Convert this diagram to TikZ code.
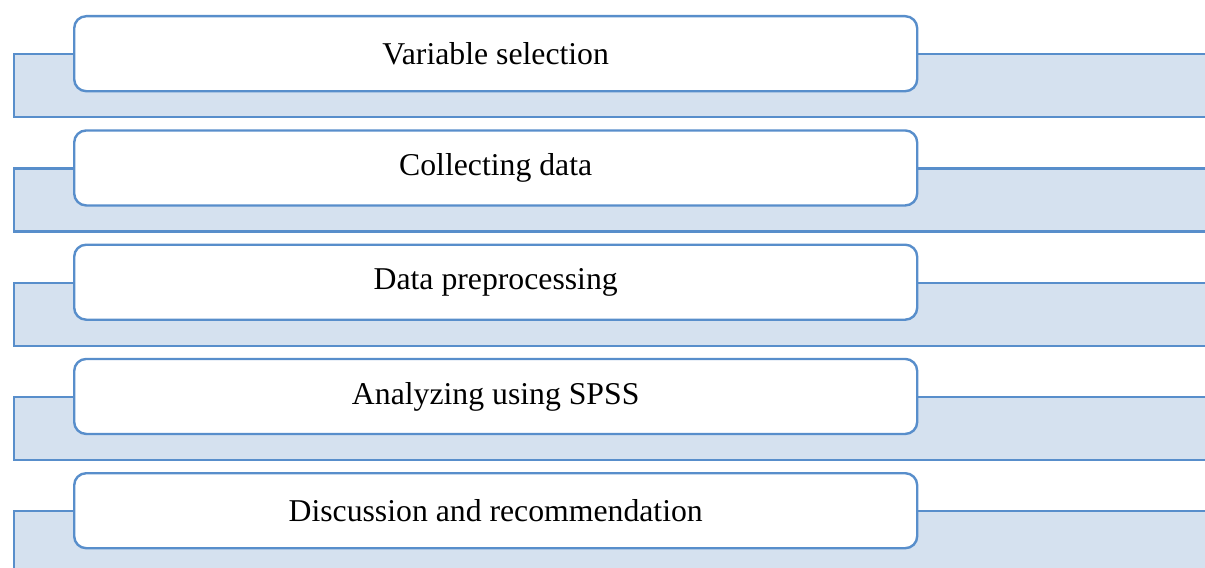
\documentclass[tikz,border=0pt]{standalone}
\usepackage{fontspec}
\setmainfont{Liberation Serif}
\definecolor{edgeblue}{RGB}{88,142,203}
\definecolor{fillblue}{RGB}{213,225,239}
\begin{document}
\begin{tikzpicture}[x=0.75pt,y=-0.75pt,
  bgbar/.style={draw=edgeblue,fill=fillblue,line width=1.8pt,minimum width=1202*0.75pt,minimum height=63*0.75pt,inner sep=0pt,anchor=north west},
  stepbox/.style={draw=edgeblue,fill=white,line width=1.8pt,rounded corners=9pt,minimum width=843*0.75pt,minimum height=75*0.75pt,inner sep=0pt,anchor=north west,font=\fontsize{23.8pt}{28pt}\selectfont}]
\useasboundingbox (0,0) rectangle (1205,567);
\clip (0,0) rectangle (1205,567);
\foreach \i/\txt in {0/Variable selection,1/Collecting data,2/Data preprocessing,3/Analyzing using SPSS,4/Discussion and recommendation}{
  \pgfmathsetmacro{\t}{15+114.25*\i}
  \node[bgbar] (bg\i) at (13,\t+38) {};
  \node[stepbox] (box\i) at (73,\t) {\txt};
}
\end{tikzpicture}
\end{document}
